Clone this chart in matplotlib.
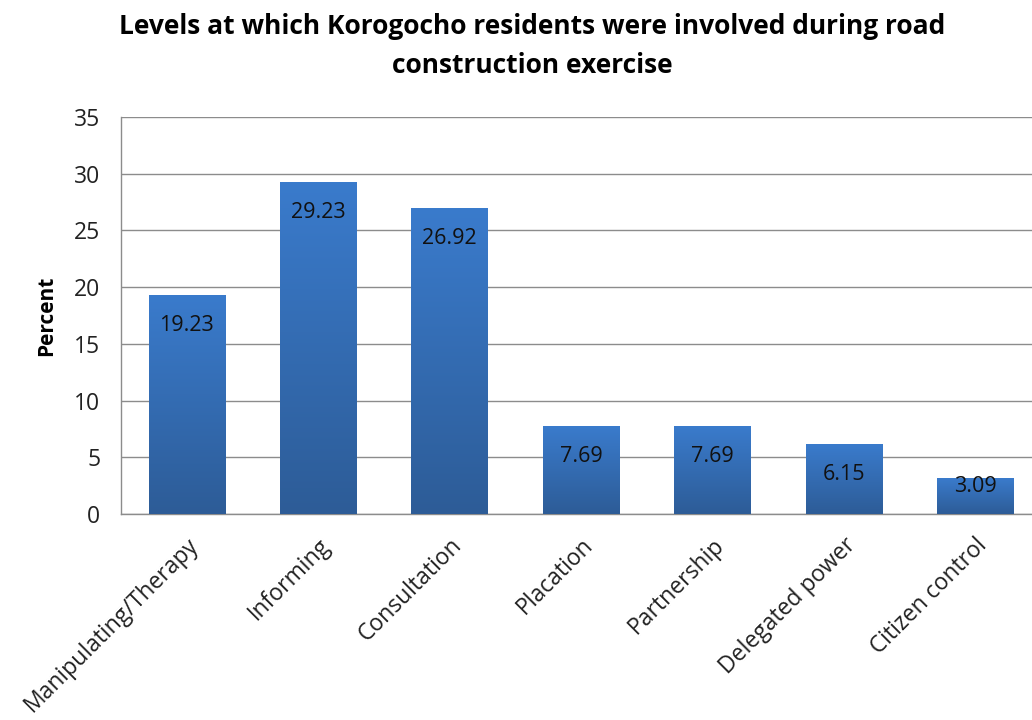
import matplotlib
matplotlib.use('Agg')
import matplotlib.pyplot as plt
import numpy as np
from matplotlib.colors import LinearSegmentedColormap

plt.rcParams['font.family'] = ['Open Sans', 'DejaVu Sans']

categories = ['Manipulating/Therapy', 'Informing', 'Consultation', 'Placation',
              'Partnership', 'Delegated power', 'Citizen control']
percent = [19.23, 29.23, 26.92, 7.69, 7.69, 6.15, 3.09]
y_ticks = [0, 5, 10, 15, 20, 25, 30, 35]

W, H = 1032, 720
fig = plt.figure(figsize=(W / 100, H / 100), dpi=100)
ax = fig.add_axes([121 / W, (H - 514) / H, (1041 - 121) / W, (514 - 117) / H])

x = np.arange(len(categories))
bars = ax.bar(x, percent, width=0.58, color='none', zorder=3)

# vertical blue gradient in each bar, lighter at the top
grad = LinearSegmentedColormap.from_list('bar', ['#2d5c97', '#3a7bcc'])
ramp = np.linspace(0, 1, 256).reshape(-1, 1)
for b in bars:
    x0, w, h = b.get_x(), b.get_width(), b.get_height()
    ax.imshow(ramp, cmap=grad, aspect='auto', origin='lower',
              extent=(x0, x0 + w, 0, h), zorder=3, interpolation='bilinear')

for xi, v in zip(x, percent):
    dy = 2.65 if v > 5 else 0.7
    ax.text(xi, v - dy, f'{v:.2f}', ha='center', va='center',
            fontsize=15.5, color='#111111', zorder=4)

ax.set_xlim(-0.5, len(categories) - 0.5)
ax.set_ylim(0, 35)
ax.set_yticks(y_ticks)
ax.tick_params(axis='y', length=0, labelsize=16.5, pad=15, colors='#222222')
ax.tick_params(axis='x', length=0, pad=14)
ax.set_xticks(x)
ax.set_xticklabels(categories, rotation=45, ha='right', rotation_mode='anchor',
                   fontsize=16.5, color='#222222')
ax.grid(axis='y', color='#8c8c8c', lw=1.0, zorder=0)
ax.set_axisbelow(True)
for s in ['top', 'right']:
    ax.spines[s].set_visible(False)
for s in ['left', 'bottom']:
    ax.spines[s].set_color('#8c8c8c')
    ax.spines[s].set_linewidth(1.0)

ax.set_ylabel('Percent', fontsize=15, fontweight='bold', labelpad=12)

fig.text(532 / W, 1 - 46 / H,
         'Levels at which Korogocho residents were involved during road\n'
         'construction exercise', ha='center', va='center',
         fontsize=19, fontweight='bold', linespacing=1.55)

fig.savefig('out.png', dpi=100, facecolor='white')
